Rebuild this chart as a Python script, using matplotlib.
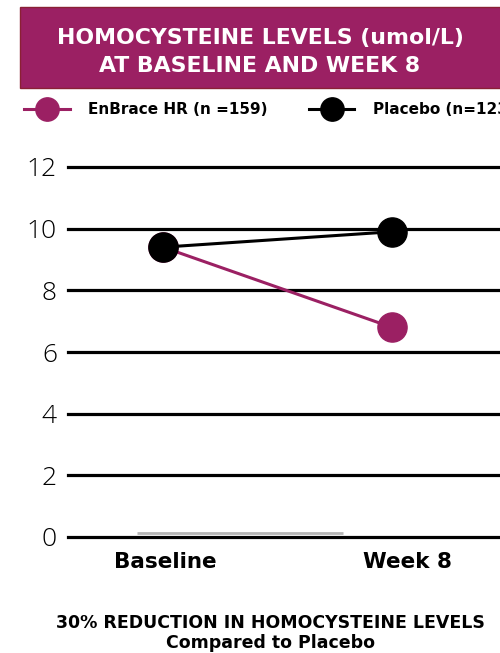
import matplotlib.pyplot as plt
from matplotlib.patches import Rectangle


# ---------------------------------------------------
# Data
# ---------------------------------------------------

timepoints = ["Baseline", "Week 8"]
enbrace_values = [9.4, 6.8]
placebo_values = [9.4, 9.9]
y_ticks = [0, 2, 4, 6, 8, 10, 12]

enbrace_label = "EnBrace HR (n =159)"
placebo_label = "Placebo (n=123)"

title_text = "HOMOCYSTEINE LEVELS (umol/L)\nAT BASELINE AND WEEK 8"
footer_text = "30% REDUCTION IN HOMOCYSTEINE LEVELS\nCompared to Placebo"

purple = "#9b2063"
light_font = ["Open Sans", "DejaVu Sans"]
bold_font = ["DejaVu Sans"]


# ---------------------------------------------------
# Figure
# ---------------------------------------------------

plt.rcParams["font.family"] = light_font

fig = plt.figure(figsize=(5.0, 6.53), dpi=100)
H = 653.0
W = 500.0

# axes: x from 68 px to 500 px, y from 537 px (value 0) to 167 px (value 12)
ax = fig.add_axes([68 / W, 1 - 537 / H, 1 - 68 / W, (537 - 167) / H])

xs = list(range(len(timepoints)))

ax.plot(
    xs, enbrace_values,
    color=purple, linewidth=2.2,
    marker="o", markersize=21,
    label=enbrace_label, zorder=4,
)
ax.plot(
    xs, placebo_values,
    color="black", linewidth=2.2,
    marker="o", markersize=21,
    label=placebo_label, zorder=5,
)

ax.set_xlim(-0.415, 1.472)
ax.set_ylim(0, 12)

for y in y_ticks:
    ax.axhline(y, color="black", linewidth=2.3, zorder=1, clip_on=False)

# faint grey rule just above the zero line
ax.plot(
    [-0.114, 0.786], [0.13, 0.13],
    color="#b5b5b5", linewidth=2.0, zorder=2, solid_capstyle="butt",
)

ax.set_yticks(y_ticks)
ax.set_yticklabels([str(t) for t in y_ticks], fontsize=19, fontweight="light")
ax.tick_params(axis="y", length=0, pad=8)
ax.set_xticks([])

for s in ax.spines.values():
    s.set_visible(False)

# category labels
label_offsets = [0.01, 0.07]
for x, name, off in zip(xs, timepoints, label_offsets):
    ax.text(
        x + off, -0.82, name,
        ha="center", va="center",
        family=bold_font, fontsize=15.5, fontweight="bold",
    )


# ---------------------------------------------------
# Title banner
# ---------------------------------------------------

banner = Rectangle(
    (20 / W, 1 - 88 / H), 1.0, 81 / H,
    transform=fig.transFigure,
    facecolor=purple, edgecolor="#8a2035", linewidth=1.0,
)
fig.patches.append(banner)

fig.text(
    260 / W, 1 - 52 / H, title_text,
    ha="center", va="center",
    color="white", family=bold_font, fontsize=15.8, fontweight="bold",
    linespacing=1.5,
)


# ---------------------------------------------------
# Legend
# ---------------------------------------------------

handles, labels = ax.get_legend_handles_labels()
leg = fig.legend(
    handles, labels,
    loc="center left",
    bbox_to_anchor=(10 / W, 1 - 110 / H),
    ncol=2, frameon=False,
    prop={"family": bold_font, "weight": "bold", "size": 11},
    markerscale=0.8,
    handlelength=3.0, handletextpad=1.2, columnspacing=2.7,
)


# ---------------------------------------------------
# Footer
# ---------------------------------------------------

fig.text(
    270 / W, 1 - 633 / H, footer_text,
    ha="center", va="center",
    family=bold_font, fontsize=12.5, fontweight="bold",
    linespacing=1.1,
)

fig.savefig("out.png", dpi=100)
